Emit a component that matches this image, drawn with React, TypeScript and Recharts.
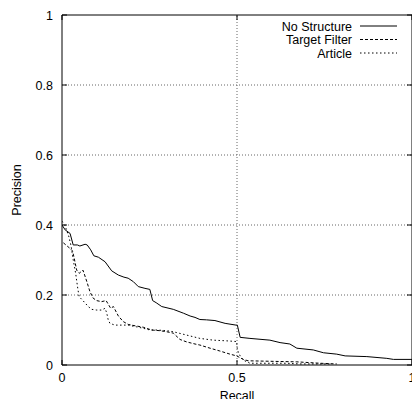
import React from "react";
import { LineChart, Line, XAxis, YAxis, ReferenceLine, ReferenceArea } from "recharts";

const noStructureRecall = [0, 0.009, 0.023, 0.032, 0.044, 0.051, 0.066, 0.072, 0.082, 0.091, 0.104, 0.123, 0.142, 0.161, 0.177, 0.189, 0.204, 0.218, 0.237, 0.251, 0.259, 0.269, 0.285, 0.318, 0.347, 0.366, 0.380, 0.394, 0.413, 0.437, 0.466, 0.497, 0.501, 0.509, 0.537, 0.594, 0.623, 0.651, 0.671, 0.718, 0.747, 0.785, 0.809, 0.871, 0.928, 0.947, 1.0];
const noStructurePrecision = [0.40, 0.386, 0.376, 0.343, 0.343, 0.340, 0.345, 0.343, 0.329, 0.312, 0.308, 0.295, 0.269, 0.257, 0.251, 0.248, 0.238, 0.224, 0.219, 0.216, 0.184, 0.178, 0.167, 0.159, 0.148, 0.140, 0.136, 0.130, 0.129, 0.127, 0.119, 0.114, 0.114, 0.079, 0.076, 0.071, 0.064, 0.060, 0.048, 0.043, 0.035, 0.031, 0.026, 0.024, 0.019, 0.016, 0.016];

const targetFilterRecall = [0.004, 0.023, 0.030, 0.034, 0.042, 0.049, 0.060, 0.071, 0.080, 0.089, 0.099, 0.113, 0.126, 0.132, 0.139, 0.147, 0.151, 0.161, 0.175, 0.189, 0.209, 0.232, 0.256, 0.280, 0.299, 0.318, 0.337, 0.356, 0.380, 0.394, 0.423, 0.451, 0.480, 0.499, 0.518, 0.532, 0.671, 0.737, 0.785];
const targetFilterPrecision = [0.349, 0.333, 0.326, 0.309, 0.271, 0.262, 0.271, 0.238, 0.209, 0.191, 0.184, 0.181, 0.184, 0.174, 0.162, 0.167, 0.159, 0.140, 0.124, 0.116, 0.112, 0.108, 0.100, 0.098, 0.095, 0.091, 0.073, 0.066, 0.060, 0.057, 0.048, 0.040, 0.031, 0.026, 0.016, 0.012, 0.009, 0.005, 0.003];

const articleRecall = [0, 0.009, 0.019, 0.026, 0.031, 0.039, 0.045, 0.049, 0.058, 0.075, 0.085, 0.099, 0.113, 0.123, 0.128, 0.132, 0.137, 0.151, 0.171, 0.189, 0.213, 0.232, 0.251, 0.271, 0.299, 0.318, 0.342, 0.366, 0.394, 0.432, 0.471, 0.499, 0.501, 0.509, 0.518, 0.537, 0.642, 0.680, 0.766];
const articlePrecision = [0.411, 0.397, 0.369, 0.340, 0.306, 0.262, 0.219, 0.195, 0.186, 0.167, 0.159, 0.157, 0.157, 0.162, 0.148, 0.129, 0.119, 0.114, 0.114, 0.114, 0.109, 0.105, 0.100, 0.100, 0.098, 0.095, 0.089, 0.083, 0.076, 0.071, 0.069, 0.067, 0.043, 0.026, 0.014, 0.005, 0.005, 0.003, 0.003];

const xTicks = [0, 0.5, 1];
const yTicks = [0, 0.2, 0.4, 0.6, 0.8, 1];
const yGrid = [0.2, 0.4, 0.6, 0.8];
const xGrid = [0.5];

const seriesNames = ["No Structure", "Target Filter", "Article"];
const seriesDash = ["", "3 2", "1.5 2.5"];

const zip = (xs: number[], ys: number[]) => xs.map((x, i) => ({ x, y: ys[i] }));

const noStructureData = zip(noStructureRecall, noStructurePrecision);
const targetFilterData = zip(targetFilterRecall, targetFilterPrecision);
const articleData = zip(articleRecall, articlePrecision);

const FONT = "'Liberation Sans', Arial, Helvetica, sans-serif";
const FS = 12.5;
const PLOT_LEFT = 62;
const PLOT_TOP = 15;
const PLOT_W = 350;
const PLOT_H = 350;

const XTick = (props: any) => {
  const { x, payload } = props;
  const yb = PLOT_TOP + PLOT_H;
  return (
    <g>
      <line x1={x} x2={x} y1={yb} y2={yb - 5} stroke="#000" />
      <line x1={x} x2={x} y1={PLOT_TOP} y2={PLOT_TOP + 5} stroke="#000" />
      <text x={x} y={yb + 17} textAnchor="middle" fontFamily={FONT} fontSize={FS} fill="#000">
        {String(payload.value)}
      </text>
    </g>
  );
};

const YTick = (props: any) => {
  const { y, payload } = props;
  return (
    <g>
      <line x1={PLOT_LEFT} x2={PLOT_LEFT + 5} y1={y} y2={y} stroke="#000" />
      <line x1={PLOT_LEFT + PLOT_W} x2={PLOT_LEFT + PLOT_W - 5} y1={y} y2={y} stroke="#000" />
      <text x={PLOT_LEFT - 9} y={y + 4.5} textAnchor="end" fontFamily={FONT} fontSize={FS} fill="#000">
        {String(payload.value)}
      </text>
    </g>
  );
};

export default function App() {
  return (
    <div style={{ position: "absolute", left: 0, top: 0, width: 412, height: 399 }}>
      <LineChart width={412} height={399} margin={{ top: 15, right: 0, left: 2, bottom: 0 }}>
        <ReferenceArea x1={0} x2={1} y1={0} y2={1} fill="none" stroke="#000" strokeWidth={1} ifOverflow="visible" />
        {yGrid.map((v) => (
          <ReferenceLine key={"y" + v} y={v} stroke="#666" strokeDasharray="1 2" />
        ))}
        {xGrid.map((v) => (
          <ReferenceLine key={"x" + v} x={v} stroke="#666" strokeDasharray="1 2" />
        ))}
        <XAxis
          type="number"
          dataKey="x"
          domain={[0, 1]}
          ticks={xTicks}
          tick={<XTick />}
          tickLine={false}
          tickSize={0}
          tickMargin={0}
          axisLine={false}
          height={34}
          allowDataOverflow
          interval={0}
        />
        <YAxis
          type="number"
          dataKey="y"
          domain={[0, 1]}
          ticks={yTicks}
          tick={<YTick />}
          tickLine={false}
          tickSize={0}
          tickMargin={0}
          axisLine={false}
          width={60}
          allowDataOverflow
          interval={0}
        />
        <Line data={noStructureData} dataKey="y" type="linear" stroke="#000" strokeWidth={1} dot={false} isAnimationActive={false} name="No Structure" />
        <Line data={targetFilterData} dataKey="y" type="linear" stroke="#000" strokeWidth={1} strokeDasharray="3 2" dot={false} isAnimationActive={false} name="Target Filter" />
        <Line data={articleData} dataKey="y" type="linear" stroke="#000" strokeWidth={1} strokeDasharray="1.5 2.5" dot={false} isAnimationActive={false} name="Article" />
      </LineChart>
      <div style={{ position: "absolute", left: 0, top: 0, pointerEvents: "none" }}>
        <svg width={412} height={399}>
          {seriesNames.map((name, i) => (
            <g key={name}>
              <text x={352} y={26 + i * 13.5 + 4.5} textAnchor="end" fontFamily={FONT} fontSize={FS} fill="#000">
                {name}
              </text>
              <line x1={360} x2={397} y1={26 + i * 13.5} y2={26 + i * 13.5} stroke="#000" strokeWidth={1} strokeDasharray={seriesDash[i] || undefined} />
            </g>
          ))}
          <text x={0} y={0} transform="translate(21,190) rotate(-90)" textAnchor="middle" fontFamily={FONT} fontSize={FS} fill="#000">
            Precision
          </text>
          <text x={237} y={400} textAnchor="middle" fontFamily={FONT} fontSize={FS} fill="#000">
            Recall
          </text>
        </svg>
      </div>
    </div>
  );
}
